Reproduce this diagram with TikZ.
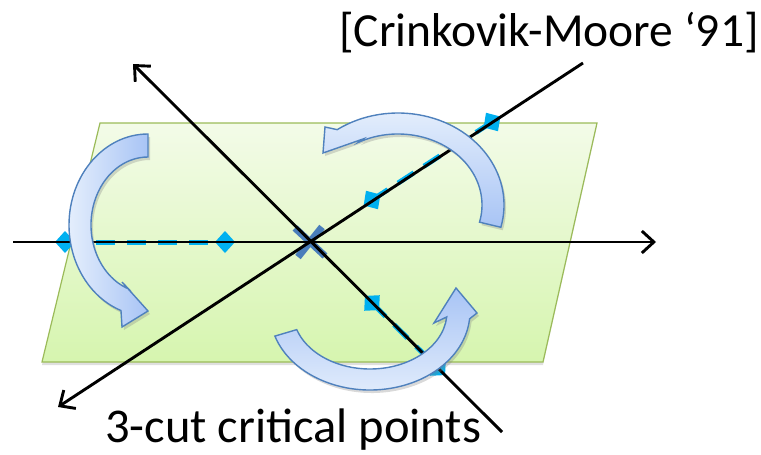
\documentclass[tikz,border=0pt]{standalone}
\usepackage{fontspec}
\setmainfont{Carlito}
\usetikzlibrary{arrows.meta,calc,shadows}
\definecolor{planeline}{HTML}{9BBB59}
\definecolor{planetop}{HTML}{F3FBE8}
\definecolor{planebottom}{HTML}{D6F5AF}
\definecolor{cutcyan}{HTML}{00B0F0}
\definecolor{crossblue}{HTML}{4A7EBB}
\definecolor{arrowline}{HTML}{4F81BD}
\definecolor{arrowlight}{HTML}{E4EEFC}
\definecolor{arrowdark}{HTML}{A8C4F5}
\begin{document}
\begin{tikzpicture}[x=1pt,y=-1pt,
  planeface/.style={draw=planeline, line width=1.2pt, top color=planetop, bottom color=planebottom,
    drop shadow={opacity=0.25, shadow xshift=0pt, shadow yshift=-3pt}},
  axisline/.style={line width=2.9pt, black, -{Straight Barb[length=12pt,width=22pt]}},
  cyandash/.style={draw=cutcyan, line width=5pt, dash pattern=on 19pt off 12pt},
  cutmark/.style={fill=cutcyan},
  crossmark/.style={draw=crossblue, line width=7pt},
  turnarrow/.style={draw=arrowline, line width=1.4pt, line join=miter,
    drop shadow={opacity=0.3, shadow xshift=2pt, shadow yshift=-3pt}},
  caption/.style={inner sep=0pt, anchor=base west}
]
\useasboundingbox (0,0) rectangle (761,455);

% key points of the three lines through the origin
\coordinate (O)   at (310,242);
\coordinate (hL)  at (13,242);
\coordinate (hR)  at (656,242);
\coordinate (dTL) at (133,64);
\coordinate (dBR) at (502,432);
\coordinate (dBL) at (58,407);
\coordinate (dTR) at (583,63);

% the plane
\draw[planeface] (100,123) -- (597,123) -- (543,362) -- (42,362) -- cycle;

% dashed cut segments with diamond ends
\coordinate (hA) at (65,242);  \coordinate (hB) at (225,242);
\coordinate (rA) at (372,200); \coordinate (rB) at (492,122);
\coordinate (fA) at (372,303); \coordinate (fB) at (438,368);
\draw[cyandash] (hA) -- (hB);
\draw[cyandash] (rA) -- (rB);
\draw[cyandash] (fA) -- (fB);
\foreach \p in {hA,hB}
  \fill[cutmark, shift={(\p)}] (-10,0) -- (0,-11) -- (10,0) -- (0,11) -- cycle;
\foreach \p in {rA,rB}
  \fill[cutmark, shift={(\p)}, rotate=33] (-10,0) -- (0,-11) -- (10,0) -- (0,11) -- cycle;
\foreach \p in {fA,fB}
  \fill[cutmark, shift={(\p)}, rotate=-45] (-10,0) -- (0,-11) -- (10,0) -- (0,11) -- cycle;

% cross at the origin
\draw[crossmark] ($(O)+(-15,-14)$) -- ($(O)+(15,14)$);
\draw[crossmark] ($(O)+(-12,15)$) -- ($(O)+(12,-15)$);

% axes
\draw[axisline] (hL) -- (hR);
\draw[axisline] (dBR) -- (dTL);
\draw[axisline] (dTR) -- (dBL);

% curved arrows
\coordinate (c1) at (148,225);
\draw[turnarrow, left color=arrowlight, right color=arrowdark]
  ($(c1)+(-90:79 and 91)$) arc[start angle=-90, end angle=-250, x radius=79, y radius=91]
  -- (122,327) -- (148,311) -- (122,282) -- ($(c1)+(-250:57 and 68)$)
  arc[start angle=-250, end angle=-90, x radius=57, y radius=68] -- cycle;

\coordinate (c2) at (398,205);
\draw[turnarrow, top color=arrowlight, bottom color=arrowdark]
  ($(c2)+(14:106 and 92)$) arc[start angle=14, end angle=-125, x radius=106, y radius=92]
  -- (325,127) -- (323,153) -- (363,139) -- ($(c2)+(-118:84 and 71)$)
  arc[start angle=-118, end angle=14, x radius=84, y radius=71] -- cycle;

\coordinate (c3) at (370,312);
\draw[turnarrow, top color=arrowdark, bottom color=arrowlight]
  ($(c3)+(162:100 and 78)$) arc[start angle=162, end angle=5, x radius=100, y radius=78]
  -- (477,313) -- (456,288) -- (434,323) -- ($(c3)+(5:77 and 57)$)
  arc[start angle=5, end angle=162, x radius=77, y radius=57] -- cycle;

% texts
\node[caption, font=\fontsize{47.5}{52}\selectfont] (cite) at (339,46) {[Crinkovik-Moore ‘91]};
\node[caption, font=\fontsize{48.5}{52}\selectfont] (cuts) at (105,442) {3-cut critical points};
\end{tikzpicture}
\end{document}
